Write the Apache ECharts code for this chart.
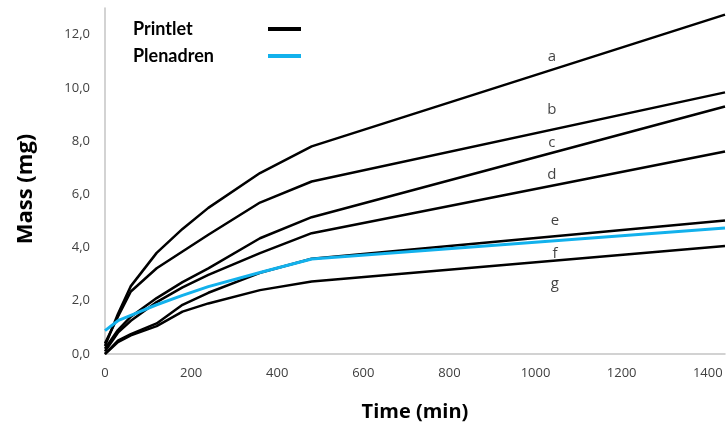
<!DOCTYPE html>
<html>
<head>
<meta charset="utf-8">
<script src="https://cdn.jsdelivr.net/npm/echarts@6/dist/echarts.min.js"></script>
<style>html,body{margin:0;padding:0;background:#fff}#c{width:726px;height:427px}</style>
</head>
<body>
<div id="c"></div>
<script>
const times = [0, 30, 60, 120, 180, 240, 360, 480, 1440];
const curveA = [0.3, 1.5, 2.55, 3.8, 4.7, 5.49, 6.8, 7.8, 12.75];
const curveB = [0.4, 1.4, 2.35, 3.22, 3.85, 4.48, 5.69, 6.48, 9.83];
const curveC = [0.2, 0.9, 1.4, 2.1, 2.7, 3.22, 4.35, 5.14, 9.3];
const curveD = [0.1, 0.8, 1.25, 1.95, 2.5, 2.97, 3.79, 4.54, 7.61];
const curveE = [0.0, 0.5, 0.75, 1.15, 1.85, 2.3, 3.05, 3.58, 5.02];
const curveG = [0.0, 0.45, 0.7, 1.05, 1.59, 1.9, 2.4, 2.72, 4.06];
const plenadren = [0.88, 1.25, 1.45, 1.85, 2.2, 2.53, 3.06, 3.57, 4.73];
const curveLabels = ['a', 'b', 'c', 'd', 'e', 'f', 'g'];
const labelX = [1038, 1038, 1038, 1038, 1045, 1045, 1045];
const labelY = [11.17, 9.18, 7.94, 6.73, 4.99, 3.76, 2.63];
const xTicks = [0, 200, 400, 600, 800, 1000, 1200, 1400];

const pair = arr => times.map((t, i) => [t, arr[i]]);
const blackLine = arr => ({
  type: 'line', name: 'Printlet', data: pair(arr), showSymbol: false, symbol: 'none',
  lineStyle: { color: '#000', width: 2.5 }, itemStyle: { color: '#000' }, z: 2, silent: true
});
const series = [curveA, curveB, curveC, curveD, curveE, curveG].map(blackLine);
series.push({
  type: 'line', name: 'Plenadren', data: pair(plenadren), showSymbol: false, symbol: 'none',
  lineStyle: { color: '#12b1ec', width: 3 }, itemStyle: { color: '#12b1ec' }, z: 3, silent: true
});
series.push({
  type: 'scatter', name: 'labels', symbolSize: 0, silent: true,
  data: curveLabels.map((n, i) => ({ value: [labelX[i], labelY[i]], name: n })),
  label: { show: true, position: 'inside', formatter: p => p.name, color: '#111',
           fontFamily: 'Open Sans', fontSize: 15 }
});

const chart = echarts.init(document.getElementById('c'), null, { renderer: 'canvas' });
chart.setOption({
  animation: false,
  backgroundColor: '#fff',
  grid: { left: 105, right: 1, top: 8, bottom: 73, containLabel: false },
  legend: {
    data: ['Printlet', 'Plenadren'], orient: 'vertical', left: 133, top: 19, align: 'right',
    icon: 'rect', itemWidth: 33, itemHeight: 4, itemGap: 7, padding: 0,
    formatter: n => '{t|' + n + '}',
    textStyle: {
      rich: { t: { width: 130, height: 20, lineHeight: 20, align: 'left',
        fontFamily: 'Lato', fontWeight: 'bold', fontSize: 18, color: '#000' } }
    }
  },
  xAxis: {
    type: 'value', min: 0, max: 1440, interval: 200,
    name: 'Time (min)', nameLocation: 'middle', nameGap: 48,
    nameTextStyle: { fontFamily: 'Open Sans', fontWeight: 'bold', fontSize: 20, color: '#000' },
    axisLine: { lineStyle: { color: '#c4c4c4', width: 1.5 } },
    axisTick: { show: false }, splitLine: { show: false },
    axisLabel: { margin: 13, color: '#404040', fontFamily: 'Open Sans', fontSize: 13,
      formatter: v => xTicks.includes(v) ? String(v) : '', showMaxLabel: false }
  },
  yAxis: {
    type: 'value', min: 0, max: 13, interval: 2,
    name: 'Mass (mg)', nameLocation: 'middle', nameGap: 68, nameRotate: 90,
    nameTextStyle: { fontFamily: 'Open Sans', fontWeight: 'bold', fontSize: 22, color: '#000',
      padding: [0, 16, 0, 0] },
    axisLine: { show: true, lineStyle: { color: '#c4c4c4', width: 1.5 } },
    axisTick: { show: false }, splitLine: { show: false },
    axisLabel: { margin: 15, color: '#404040', fontFamily: 'Open Sans', fontSize: 13,
      formatter: v => (v % 2 === 0 ? v.toFixed(1).replace('.', ',') : ''), showMaxLabel: false }
  },
  series: series
});
</script>
</body>
</html>
